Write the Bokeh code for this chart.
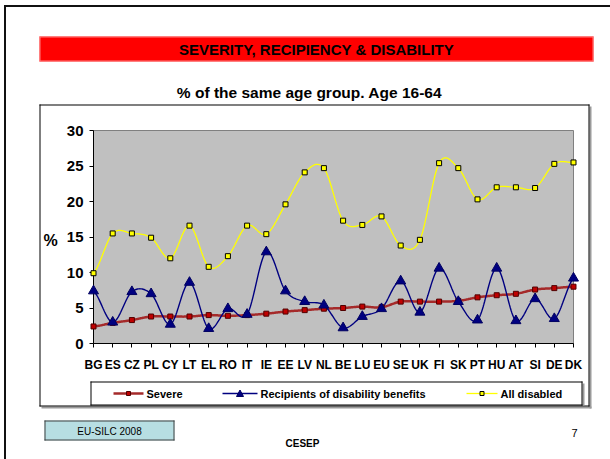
import numpy as np
from bokeh.plotting import figure
from bokeh.models import Range1d, FixedTicker
from bokeh.core.properties import value
from bokeh.embed import file_html
from bokeh.resources import INLINE

# ---------------- data ----------------
countries = ["BG", "ES", "CZ", "PL", "CY", "LT", "EL", "RO", "IT", "IE", "EE", "LV", "NL",
             "BE", "LU", "EU", "SE", "UK", "FI", "SK", "PT", "HU", "AT", "SI", "DE", "DK"]
severe = [2.4, 2.9, 3.3, 3.8, 3.8, 3.8, 4.0, 3.9, 4.0, 4.2, 4.5, 4.7, 4.9,
          5.0, 5.2, 5.1, 5.9, 5.9, 5.9, 6.0, 6.5, 6.8, 7.0, 7.6, 7.8, 8.0]
recipients = [7.4, 3.0, 7.3, 7.0, 2.7, 8.6, 2.1, 4.9, 4.1, 12.9, 7.4, 5.9, 5.4,
              2.2, 3.8, 4.9, 8.8, 4.4, 10.6, 5.9, 3.3, 10.6, 3.2, 6.3, 3.5, 9.2]
all_disabled = [9.9, 15.5, 15.5, 14.9, 12.0, 16.6, 10.8, 12.3, 16.6, 15.4, 19.6, 24.1, 24.7,
                17.3, 16.7, 17.9, 13.8, 14.6, 25.4, 24.7, 20.3, 22.0, 22.0, 21.9, 25.3, 25.5]
y_ticks = [0, 5, 10, 15, 20, 25, 30]
series_names = ["Severe", "Recipients of disability benefits", "All disabled"]

FONT = "Liberation Sans"

SEV = dict(line="#A52A2A", lw=2.5, marker="square", size=5, fill="#C00000", edge="#500000")
REC = dict(line="#000080", lw=1.4, marker="triangle", size=10, fill="#000080", edge="#000060")
ALL = dict(line="#FFFF00", lw=1.3, marker="square", size=5, fill="#FFFF00", edge="black")


def smooth(vals, n=24):
    """Catmull-Rom style smoothing (like a spreadsheet 'smoothed line')."""
    y = np.asarray(vals, dtype=float)
    N = len(y)
    xs, ys = [], []
    for i in range(N - 1):
        y0 = y[i - 1] if i > 0 else y[i]
        y3 = y[i + 2] if i + 2 < N else y[i + 1]
        m1 = (y[i + 1] - y0) / 2.0
        m2 = (y3 - y[i]) / 2.0
        t = np.linspace(0, 1, n, endpoint=(i == N - 2))
        h00 = 2 * t**3 - 3 * t**2 + 1
        h10 = t**3 - 2 * t**2 + t
        h01 = -2 * t**3 + 3 * t**2
        h11 = t**3 - t**2
        xs.extend(i + t)
        ys.extend(h00 * y[i] + h10 * m1 + h01 * y[i + 1] + h11 * m2)
    return xs, ys


# ---------------- page geometry (page pixels) ----------------
W, H = 610, 459
FL, FR, FT, FB = 93, 573, 130, 343          # chart plotting area
XMAX, YMAX = len(countries) - 1, 30

p = figure(width=W, height=H, x_range=Range1d(0, XMAX), y_range=Range1d(0, YMAX),
           output_backend="svg", toolbar_location=None, title=None,
           min_border_left=FL, min_border_right=W - FR,
           min_border_top=FT, min_border_bottom=H - FB)
p.background_fill_color = "#C0C0C0"
p.border_fill_color = "white"
p.outline_line_color = "#808080"
p.grid.visible = False

xa = p.xaxis[0]
xa.ticker = FixedTicker(ticks=list(range(len(countries))))
xa.major_label_overrides = {i: c for i, c in enumerate(countries)}
xa.major_label_text_font = FONT
xa.major_label_text_font_style = "bold"
xa.major_label_text_font_size = "12px"
xa.major_label_text_color = "black"
xa.major_tick_out = 4
xa.major_tick_in = 0
xa.minor_tick_out = 0
xa.major_label_standoff = 10
xa.axis_line_color = "black"

ya = p.yaxis[0]
ya.ticker = FixedTicker(ticks=y_ticks)
ya.major_label_text_font = FONT
ya.major_label_text_font_style = "bold"
ya.major_label_text_font_size = "15px"
ya.major_label_text_color = "black"
ya.major_tick_out = 4
ya.major_tick_in = 0
ya.minor_tick_out = 0
ya.major_label_standoff = 6
ya.axis_line_color = "black"

idx = list(range(len(countries)))


def draw_series(vals, st):
    xs, ys = smooth(vals)
    p.line(xs, ys, line_color=st["line"], line_width=st["lw"])
    p.scatter(idx, vals, marker=st["marker"], size=st["size"], fill_color=st["fill"],
              line_color=st["edge"], line_width=1, level="overlay")


draw_series(severe, SEV)
draw_series(recipients, REC)
draw_series(all_disabled, ALL)


# ---------------- slide decorations (page pixels -> chart coords) ----------------
def xd(X):
    return (X - FL) * XMAX / (FR - FL)


def yd(Y):
    return (FB - Y) * YMAX / (FB - FT)


def rect(l, t, r, b, color, edge=None):
    p.quad(left=[xd(l)], right=[xd(r)], top=[yd(t)], bottom=[yd(b)],
           fill_color=color, line_color=edge, line_width=1, level="overlay")


def outline(l, t, r, b, color):
    rect(l, t, r, t + 1, color)
    rect(l, b - 1, r, b, color)
    rect(l, t, l + 1, b, color)
    rect(r - 1, t, r, b, color)


def text(x, y, s, size, bold=False, align="center"):
    p.text(x=[xd(x)], y=[yd(y)], text=[s], text_font=value(FONT), text_font_size=f"{size}px",
           text_font_style="bold" if bold else "normal", text_align=align,
           text_baseline="middle", text_color="black", level="overlay")


rect(3.5, 4.5, W, 6.5, "#111111")          # slide frame
rect(3.5, 4.5, 5.5, H, "#111111")
rect(39, 36, 593, 61, "#FF0000")           # title bar
outline(39, 36, 593, 61, "#FF8080")
rect(589, 106, 591, 408, "#9A9A9A")        # chart box shadow
rect(41, 406, 591, 408, "#9A9A9A")
outline(39, 104, 589, 406, "#000000")      # chart box
rect(582, 383, 584, 405, "#9A9A9A")        # legend box shadow
outline(90, 381, 582, 405, "#000000")      # legend box
rect(44, 420, 174, 440, "#B7DEE2")         # source box
outline(44, 420, 174, 440, "#404040")

text(316, 49, "SEVERITY, RECIPIENCY & DISABILITY", 15, True)
text(309, 92, "% of the same age group. Age 16-64", 15.5, True)
text(50, 240, "%", 16, True)
text(109, 431, "EU-SILC 2008", 10)
text(302, 443, "CESEP", 10, True)
text(574, 432, "7", 11)

# legend entries: swatch (line + marker) and label
LEG_YC = 393
for name, st, gx, gw in zip(series_names, [SEV, REC, ALL], [113, 222, 466], [30, 35, 31]):
    p.segment(x0=[xd(gx)], y0=[yd(LEG_YC)], x1=[xd(gx + gw)], y1=[yd(LEG_YC)],
              line_color=st["line"], line_width=st["lw"], level="overlay")
    cx = gx + gw / 2
    if st["marker"] == "triangle":
        p.patch(x=[xd(cx - 3.5), xd(cx + 3.5), xd(cx)],
                y=[yd(LEG_YC + 3), yd(LEG_YC + 3), yd(LEG_YC - 3.5)],
                fill_color=st["fill"], line_color=st["edge"], line_width=1, level="overlay")
    else:
        rect(cx - 2, LEG_YC - 2, cx + 2, LEG_YC + 2, st["fill"], edge=st["edge"])
    text(gx + gw + 3, LEG_YC, name, 11, True, align="left")

open("out.html", "w").write(file_html(p, INLINE))
